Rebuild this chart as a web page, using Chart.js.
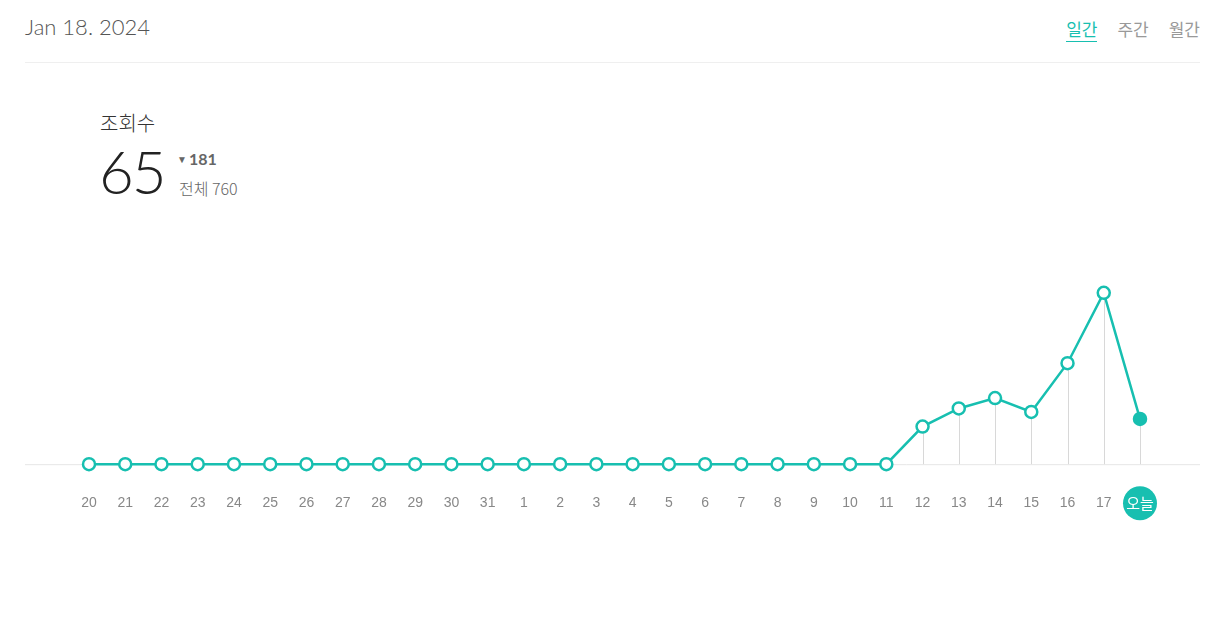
<!DOCTYPE html>
<html>
<head>
<meta charset="UTF-8">
<title>조회수</title>
<script src="https://cdn.jsdelivr.net/npm/chart.js"></script>
<style>
  body { margin: 0; width: 1218px; height: 619px; background: #fff; font-family: "Noto Sans CJK KR", "Noto Sans", sans-serif; position: relative; overflow: hidden; }
  .date { position: absolute; left: 25px; top: 13px; font-size: 22px; color: #555; font-weight: 300; font-family: Lato, "Noto Sans CJK KR", sans-serif; }
  .divider { position: absolute; left: 25px; width: 1175px; top: 62px; height: 1px; background: #efefef; }
  .tabs { position: absolute; right: 18px; top: 16px; font-size: 17px; color: #999; }
  .tabs span { margin-left: 20px; }
  .tabs .on { color: #17bfb0; border-bottom: 1.5px solid #17bfb0; }
  .title { position: absolute; left: 100px; top: 108px; font-size: 20px; color: #333; font-weight: 300; }
  .big { position: absolute; left: 99px; top: 135px; font-size: 60px; color: #222; font-weight: 300; font-family: Lato, "Noto Sans", sans-serif; letter-spacing: -2px; }
  .diff { position: absolute; left: 177px; top: 149px; font-size: 16px; color: #666; font-family: Lato, sans-serif; font-weight: bold; }
  .diff small { font-size: 10px; vertical-align: 2px; margin-right: 2px; }
  .total { position: absolute; left: 179px; top: 176px; font-size: 16px; color: #666; font-weight: 300; }
  #wrap { position: absolute; left: 25px; top: 225px; width: 1175px; height: 330px; }
</style>
</head>
<body>
<div class="date">Jan 18. 2024</div>
<div class="tabs"><span class="on">일간</span><span>주간</span><span>월간</span></div>
<div class="divider"></div>
<div class="title">조회수</div>
<div class="big">65</div>
<div class="diff"><small>▼</small>181</div>
<div class="total">전체 760</div>
<div id="wrap"><canvas id="chart"></canvas></div>
<script>
const days = ['20','21','22','23','24','25','26','27','28','29','30','31','1','2','3','4','5','6','7','8','9','10','11','12','13','14','15','16','17','오늘'];
const views = [0,0,0,0,0,0,0,0,0,0,0,0,0,0,0,0,0,0,0,0,0,0,0,54,80,95,75,145,246,65];

const teal = '#17bfb0';

// baseline + drop lines from each point to zero
const guides = {
  id: 'guides',
  beforeDatasetsDraw(chart) {
    const { ctx, scales: { x, y }, width } = chart;
    const y0 = y.getPixelForValue(0);
    ctx.save();
    ctx.strokeStyle = '#e6e6e6';
    ctx.lineWidth = 1;
    ctx.beginPath();
    ctx.moveTo(0, y0 + 0.5);
    ctx.lineTo(width, y0 + 0.5);
    ctx.stroke();
    ctx.strokeStyle = '#d8d8d8';
    views.forEach((v, i) => {
      if (v <= 0) return;
      const px = Math.round(x.getPixelForValue(i)) + 0.5;
      ctx.beginPath();
      ctx.moveTo(px, y.getPixelForValue(v));
      ctx.lineTo(px, y0);
      ctx.stroke();
    });
    ctx.restore();
  }
};

// teal badge behind the "today" tick
const todayBadge = {
  id: 'todayBadge',
  afterDraw(chart) {
    const { ctx, scales: { x } } = chart;
    const i = days.length - 1;
    const px = x.getPixelForValue(i);
    const py = x.top + 39;
    ctx.save();
    ctx.fillStyle = teal;
    ctx.beginPath();
    ctx.arc(px, py, 17, 0, Math.PI * 2);
    ctx.fill();
    ctx.fillStyle = '#fff';
    ctx.font = '15px "Noto Sans CJK KR"';
    ctx.textAlign = 'center';
    ctx.textBaseline = 'middle';
    ctx.fillText(days[i], px, py);
    ctx.restore();
  }
};

new Chart(document.getElementById('chart'), {
  type: 'line',
  data: {
    labels: days,
    datasets: [{
      data: views,
      clip: false,
      borderColor: teal,
      borderWidth: 2.5,
      pointRadius: 6,
      pointBorderWidth: 2.5,
      pointBorderColor: teal,
      pointBackgroundColor: views.map((v, i) => i === views.length - 1 ? teal : '#fff'),
      tension: 0,
      fill: false
    }]
  },
  options: {
    responsive: true,
    maintainAspectRatio: false,
    animation: false,
    layout: { padding: { left: 64, right: 60, top: 40, bottom: 20 } },
    plugins: { legend: { display: false }, tooltip: { enabled: false } },
    scales: {
      x: {
        grid: { display: false },
        border: { display: false },
        ticks: {
          color: '#888',
          font: { size: 14, family: 'Liberation Sans' },
          padding: 23,
          maxRotation: 0,
          autoSkip: false,
          callback: (v, i) => i === days.length - 1 ? '' : days[i]
        }
      },
      y: { display: false, min: 0, max: 286 }
    }
  },
  plugins: [guides, todayBadge]
});
</script>
</body>
</html>
